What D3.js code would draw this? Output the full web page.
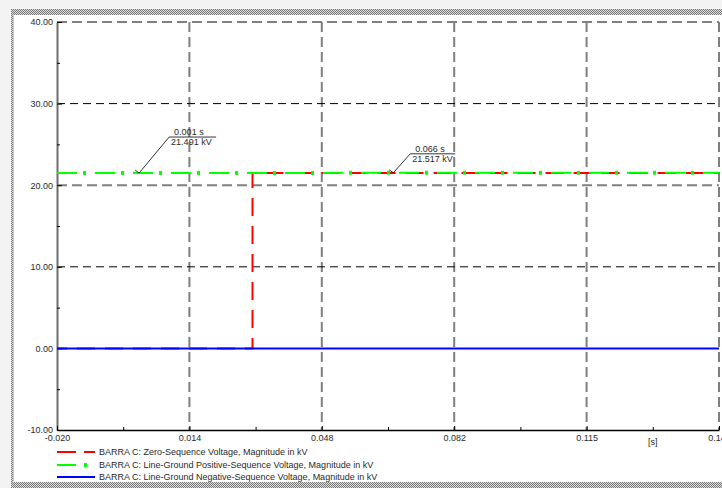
<!DOCTYPE html>
<html>
<head>
<meta charset="utf-8">
<script src="https://cdn.jsdelivr.net/npm/d3@7"></script>
<style>
  html, body { margin: 0; padding: 0; background: #ffffff; }
  svg { display: block; }
  text { font-family: "Liberation Sans", Arial, sans-serif; font-size: 9px; fill: #2a2a2a; }
</style>
</head>
<body>
<svg id="chart" width="722" height="488"></svg>
<script>
// ---- data ----
const xTickValues = [-0.020, 0.01386, 0.04772, 0.08158, 0.11544, 0.1493];
const xTickLabels = ["-0.020", "0.014", "0.048", "0.082", "0.115", "0.149"];
const xMinorTicks = [-0.00307, 0.03079, 0.06465, 0.09851, 0.13237];
const yTickValues = [-10, 0, 10, 20, 30, 40];
const yTickLabels = ["-10.00", "0.00", "10.00", "20.00", "30.00", "40.00"];
const yMinorTicks = [-5, 5, 15, 25, 35];
const unitLabel = "[s]";

// time (s) and magnitude (kV) for each sequence voltage
const zeroSeqTime  = [-0.020, 0.030, 0.030, 0.1493];
const zeroSeqKV    = [0, 0, 21.50, 21.50];
const posSeqTime   = [-0.020, 0.001, 0.066, 0.1493];
const posSeqKV     = [21.49, 21.491, 21.517, 21.517];
const negSeqTime   = [-0.020, 0.1493];
const negSeqKV     = [0, 0];

const seriesNames = [
  "BARRA C: Zero-Sequence Voltage, Magnitude in kV",
  "BARRA C: Line-Ground Positive-Sequence Voltage, Magnitude in kV",
  "BARRA C: Line-Ground Negative-Sequence Voltage, Magnitude in kV"
];

// cursor readouts on the positive-sequence curve
const cursorTime = [0.001, 0.066];
const cursorKV   = [21.491, 21.517];

// ---- layout ----
const svg = d3.select("#chart");
const plot = { left: 57, right: 719, top: 22, bottom: 430 };

const x = d3.scaleLinear().domain([-0.020, 0.1493]).range([plot.left, plot.right]);
const y = d3.scaleLinear().domain([-10, 40]).range([plot.bottom, plot.top]);

// hatched frame
const defs = svg.append("defs");
const pat = defs.append("pattern").attr("id", "hatch")
  .attr("width", 2).attr("height", 2).attr("patternUnits", "userSpaceOnUse");
pat.append("rect").attr("width", 2).attr("height", 2).attr("fill", "#dcdcdc");
pat.append("rect").attr("x", 0).attr("y", 0).attr("width", 1).attr("height", 1).attr("fill", "#7a7a7a");
pat.append("rect").attr("x", 1).attr("y", 1).attr("width", 1).attr("height", 1).attr("fill", "#7a7a7a");

svg.append("rect").attr("x", 0).attr("y", 0).attr("width", 722).attr("height", 9).attr("fill", "#f3f3f3");
svg.append("rect").attr("x", 0).attr("y", 0).attr("width", 11).attr("height", 488).attr("fill", "#f3f3f3");
svg.append("rect").attr("x", 11).attr("y", 9).attr("width", 711).attr("height", 6).attr("fill", "url(#hatch)");
svg.append("rect").attr("x", 11).attr("y", 9).attr("width", 2).attr("height", 479).attr("fill", "url(#hatch)");
svg.append("rect").attr("x", 13).attr("y", 15).attr("width", 1).attr("height", 467).attr("fill", "#c8c8c8");
svg.append("rect").attr("x", 11).attr("y", 482).attr("width", 711).attr("height", 6).attr("fill", "url(#hatch)");

// grid
const grid = svg.append("g");
grid.selectAll("line.v").data(xTickValues.slice(1)).join("line")
  .attr("x1", d => x(d)).attr("x2", d => x(d))
  .attr("y1", y(40)).attr("y2", y(-10))
  .attr("stroke", "#7f7f7f").attr("stroke-width", 2).attr("stroke-dasharray", "10,5");
grid.selectAll("line.h").data(yTickValues.slice(2)).join("line")
  .attr("x1", plot.left).attr("x2", plot.right)
  .attr("y1", d => y(d)).attr("y2", d => y(d))
  .attr("stroke", d => (d === 20 || d === 40) ? "#808080" : "#000000")
  .attr("stroke-width", d => (d === 20 || d === 40) ? 2 : 1)
  .attr("stroke-dasharray", d => (d === 20 || d === 40) ? "10,5" : "8,5");

// axes
const yAxis = d3.axisLeft(y).tickValues(yTickValues)
  .tickFormat((d, i) => yTickLabels[i]).tickSizeInner(-5).tickSizeOuter(0).tickPadding(4);
const gy = svg.append("g").attr("transform", `translate(${plot.left},0)`).call(yAxis);
gy.select(".domain").attr("stroke", "#6e6e6e").attr("stroke-width", 2);
gy.selectAll(".tick line").attr("stroke", "#000");
gy.selectAll("text").attr("font-size", 9).attr("fill", "#2a2a2a").attr("font-family", null);

const yMinor = d3.axisLeft(y).tickValues(yMinorTicks).tickFormat("").tickSizeInner(-3).tickSizeOuter(0);
const gym = svg.append("g").attr("transform", `translate(${plot.left},0)`).call(yMinor);
gym.select(".domain").remove();
gym.selectAll(".tick line").attr("stroke", "#000");

const xAxis = d3.axisBottom(x).tickValues(xTickValues)
  .tickFormat((d, i) => xTickLabels[i]).tickSizeInner(-4).tickSizeOuter(0).tickPadding(5);
const gx = svg.append("g").attr("transform", `translate(0,${plot.bottom})`).call(xAxis);
gx.select(".domain").attr("stroke", "#000").attr("stroke-width", 1.5);
gx.selectAll(".tick line").attr("stroke", "#000");
gx.selectAll("text").attr("font-size", 9).attr("fill", "#2a2a2a").attr("font-family", null);

const xMinor = d3.axisBottom(x).tickValues(xMinorTicks).tickFormat("").tickSizeInner(-3).tickSizeOuter(0);
const gxm = svg.append("g").attr("transform", `translate(0,${plot.bottom})`).call(xMinor);
gxm.select(".domain").remove();
gxm.selectAll(".tick line").attr("stroke", "#000");

svg.append("text").attr("x", x(xMinorTicks[4])).attr("y", plot.bottom + 9).attr("dy", "0.71em")
  .attr("text-anchor", "middle").text(unitLabel);

// series
const line = d3.line().x(d => x(d[0])).y(d => y(d[1]));
const zeroData = d3.zip(zeroSeqTime, zeroSeqKV);
const posData  = d3.zip(posSeqTime, posSeqKV);
const negData  = d3.zip(negSeqTime, negSeqKV);

const series = svg.append("g").attr("fill", "none");
series.append("path").attr("d", line(zeroData))
  .attr("stroke", "#ff0000").attr("stroke-width", 2)
  .attr("stroke-dasharray", "18,10").attr("stroke-dashoffset", 8);
series.append("path").attr("d", line(posData))
  .attr("stroke", "#00ff00").attr("stroke-width", 2)
  .attr("stroke-dasharray", "20,18");
series.append("path").attr("d", line(posData))
  .attr("stroke", "#00ff00").attr("stroke-width", 4)
  .attr("stroke-dasharray", "0,26,3,9");
series.append("path").attr("d", line(negData))
  .attr("stroke", "#0000ff").attr("stroke-width", 2);

// cursor readouts
const cursors = svg.append("g");
const leaderDx = [30, 17], leaderDy = [36, 19], underlineW = [47, 45];
cursorTime.forEach((t, i) => {
  const px = x(t), py = y(cursorKV[i]);
  const lx = px + leaderDx[i], ly = py - leaderDy[i];
  cursors.append("path")
    .attr("d", `M${px - 4},${py - 3}L${px},${py}L${lx},${ly}H${lx + underlineW[i]}`)
    .attr("fill", "none").attr("stroke", "#000").attr("stroke-width", 0.8);
  cursors.append("text").attr("x", lx + 5).attr("y", ly - 2).text(d3.format(".3f")(t) + " s");
  cursors.append("text").attr("x", lx + 2).attr("y", ly + 8).text(d3.format(".3f")(cursorKV[i]) + " kV");
});

// legend
const legend = svg.append("g");
const rowY = [452, 465, 477];
const sample = d3.scaleLinear().domain([0, 1]).range([57, 95]);
legend.append("line").attr("x1", sample(0)).attr("x2", sample(1)).attr("y1", rowY[0]).attr("y2", rowY[0])
  .attr("stroke", "#ff0000").attr("stroke-width", 2).attr("stroke-dasharray", "19,8");
legend.append("line").attr("x1", sample(0)).attr("x2", sample(0.5)).attr("y1", rowY[1]).attr("y2", rowY[1])
  .attr("stroke", "#00ff00").attr("stroke-width", 2);
legend.append("line").attr("x1", sample(0.71)).attr("x2", sample(0.79)).attr("y1", rowY[1]).attr("y2", rowY[1])
  .attr("stroke", "#00ff00").attr("stroke-width", 4);
legend.append("line").attr("x1", sample(0)).attr("x2", sample(1)).attr("y1", rowY[2]).attr("y2", rowY[2])
  .attr("stroke", "#0000ff").attr("stroke-width", 2);
legend.selectAll("text").data(seriesNames).join("text")
  .attr("x", 99).attr("y", (d, i) => rowY[i]).attr("dy", "0.35em").text(d => d);
</script>
</body>
</html>
